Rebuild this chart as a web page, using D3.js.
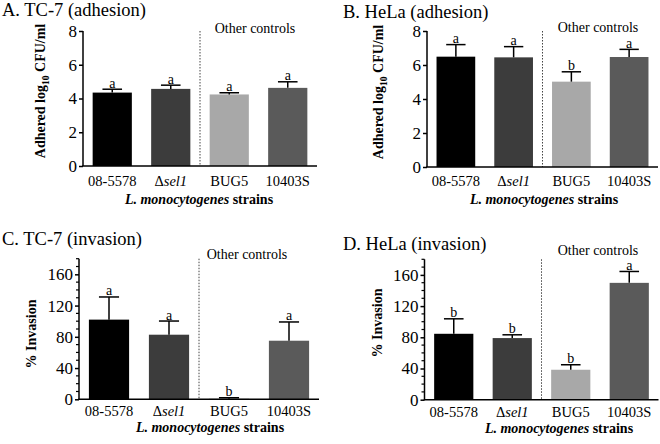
<!DOCTYPE html>
<html><head><meta charset="utf-8">
<script src="https://cdn.jsdelivr.net/npm/d3@7"></script>
<style>body{margin:0;background:#fff}svg{display:block}text{font-family:"Liberation Serif","Times New Roman",serif}</style>
</head><body>
<svg id="c" width="660" height="444"></svg>
<script>
const categories = ["08-5578", "Δsel1", "BUG5", "10403S"];
const barColors = ["#000000", "#3c3c3c", "#a8a8a8", "#5a5a5a"];

const adhTC7 = [4.35, 4.57, 4.24, 4.63];
const adhTC7Err = [0.2, 0.22, 0.1, 0.36];
const adhTC7Letters = ["a", "a", "a", "a"];

const adhHeLa = [6.49, 6.45, 5.02, 6.47];
const adhHeLaErr = [0.71, 0.63, 0.58, 0.45];
const adhHeLaLetters = ["a", "a", "b", "a"];

const invTC7 = [102, 82.7, 0.8, 75];
const invTC7Err = [29, 17.5, 1.2, 24];
const invTC7Letters = ["a", "a", "b", "a"];

const invHeLa = [84.5, 79, 38.4, 149.8];
const invHeLaErr = [19.2, 4.2, 6.4, 14.6];
const invHeLaLetters = ["b", "b", "b", "a"];

const adhTicks = [0, 2, 4, 6, 8];
const invTicks = [0, 40, 80, 120, 160];

const svg = d3.select("#c");

const panels = [
  {title: "A. TC-7 (adhesion)", tx: 2, ty: 16, vals: adhTC7, errs: adhTC7Err, letters: adhTC7Letters,
   x0: 83, x1: 317, yb: 166, yt: 31, dom: [0, 8], ticks: adhTicks, minor: false,
   ylabel: "adh", ylx: 40, yly: 91, xlx: 199, xly: 204, tly: 186, ocx: 255, ocy: 33},
  {title: "B. HeLa (adhesion)", tx: 343, ty: 18, vals: adhHeLa, errs: adhHeLaErr, letters: adhHeLaLetters,
   x0: 427, x1: 658, yb: 167, yt: 31, dom: [0, 8], ticks: adhTicks, minor: false,
   ylabel: "adh", ylx: 378, yly: 92, xlx: 544, xly: 204, tly: 186, ocx: 598, ocy: 32},
  {title: "C. TC-7 (invasion)", tx: 2, ty: 245, vals: invTC7, errs: invTC7Err, letters: invTC7Letters,
   x0: 79, x1: 319, yb: 399.3, yt: 258.7, dom: [0, 180], ticks: invTicks, minor: true,
   ylabel: "inv", ylx: 31, yly: 334, xlx: 210, xly: 432, tly: 416, ocx: 247, ocy: 259},
  {title: "D. HeLa (invasion)", tx: 343, ty: 250, vals: invHeLa, errs: invHeLaErr, letters: invHeLaLetters,
   x0: 424.5, x1: 658.5, yb: 399.7, yt: 259.3, dom: [0, 180], ticks: invTicks, minor: true,
   ylabel: "inv", ylx: 377, yly: 323, xlx: 559, xly: 433, tly: 417, ocx: 598, ocy: 255}
];

panels.forEach(p => {
  const g = svg.append("g");
  const x = d3.scaleBand().domain(categories).range([p.x0, p.x1]).paddingInner(0.33).paddingOuter(0.165);
  const y = d3.scaleLinear().domain(p.dom).range([p.yb, p.yt]);

  g.append("text").attr("x", p.tx).attr("y", p.ty).attr("font-size", 18.5).attr("fill", "#000").text(p.title);

  // bars
  g.selectAll("rect.bar").data(categories).join("rect")
    .attr("x", d => x(d)).attr("width", x.bandwidth())
    .attr("y", (d, i) => y(p.vals[i])).attr("height", (d, i) => y(0) - y(p.vals[i]))
    .attr("fill", (d, i) => barColors[i]);

  // error bars
  const cw = x.bandwidth() * 0.5;
  categories.forEach((c, i) => {
    const cx = x(c) + x.bandwidth() / 2;
    const top = y(p.vals[i] + p.errs[i]);
    g.append("line").attr("x1", cx).attr("x2", cx).attr("y1", y(p.vals[i])).attr("y2", top)
      .attr("stroke", "#000").attr("stroke-width", 1.5);
    g.append("line").attr("x1", cx - cw / 2).attr("x2", cx + cw / 2).attr("y1", top).attr("y2", top)
      .attr("stroke", "#000").attr("stroke-width", 1.5);
    g.append("text").attr("x", cx).attr("y", top - 1.5).attr("text-anchor", "middle")
      .attr("font-size", 14).attr("fill", "#000").text(p.letters[i]);
  });

  // divider
  const dx = (x(categories[1]) + x.bandwidth() + x(categories[2])) / 2;
  g.append("line").attr("x1", dx).attr("x2", dx).attr("y1", p.yt).attr("y2", p.yb)
    .attr("stroke", "#444").attr("stroke-width", 1).attr("stroke-dasharray", "1.5,1.5");
  g.append("text").attr("x", p.ocx).attr("y", p.ocy).attr("text-anchor", "middle")
    .attr("font-size", 14).attr("fill", "#000").text("Other controls");

  // y axis
  const ya = d3.axisLeft(y).tickValues(p.ticks).tickSize(4).tickPadding(2).tickFormat(d3.format("d"));
  const yg = g.append("g").attr("transform", `translate(${p.x0},0)`).call(ya);
  yg.select(".domain").attr("stroke-width", 1.5).attr("d", `M0,${p.yt}V${p.yb}`);
  yg.selectAll(".tick line").attr("stroke-width", 1.5);
  yg.selectAll(".tick text").attr("font-size", 17).attr("font-family", "Liberation Serif").attr("fill", "#000");
  if (p.minor) {
    const mt = d3.range(10, 181, 10).filter(v => v % 40 !== 0);
    yg.selectAll("line.minor").data(mt).join("line").attr("class", "minor")
      .attr("x1", -3).attr("x2", 0).attr("y1", d => y(d)).attr("y2", d => y(d))
      .attr("stroke", "#000").attr("stroke-width", 1.2);
  }

  // x axis
  g.append("line").attr("x1", p.x0 - 0.75).attr("x2", p.x1).attr("y1", p.yb).attr("y2", p.yb)
    .attr("stroke", "#000").attr("stroke-width", 1.5);
  categories.forEach((c, i) => {
    const t = g.append("text").attr("x", x(c) + x.bandwidth() / 2).attr("y", p.tly)
      .attr("text-anchor", "middle").attr("font-size", 14.5).attr("fill", "#000");
    if (c.startsWith("Δ")) {
      t.append("tspan").text("Δ");
      t.append("tspan").attr("font-style", "italic").text(c.slice(1));
    } else t.text(c);
  });

  // x label
  const xl = g.append("text").attr("x", p.xlx).attr("y", p.xly).attr("text-anchor", "middle")
    .attr("font-size", 14).attr("font-weight", "bold").attr("fill", "#000");
  xl.append("tspan").attr("font-style", "italic").text("L. monocytogenes");
  xl.append("tspan").text(" strains");

  // y label
  const yl = g.append("text").attr("transform", `translate(${p.ylx},${p.yly}) rotate(-90)`)
    .attr("text-anchor", "middle").attr("dy", "0.35em").attr("font-size", 14).attr("font-weight", "bold").attr("fill", "#000");
  if (p.ylabel === "adh") {
    yl.append("tspan").text("Adhered log");
    yl.append("tspan").attr("font-size", 9.5).attr("dy", 4).text("10");
    yl.append("tspan").attr("dy", -4).text(" CFU/ml");
  } else {
    yl.text("% Invasion");
  }
});
</script>
</body></html>
